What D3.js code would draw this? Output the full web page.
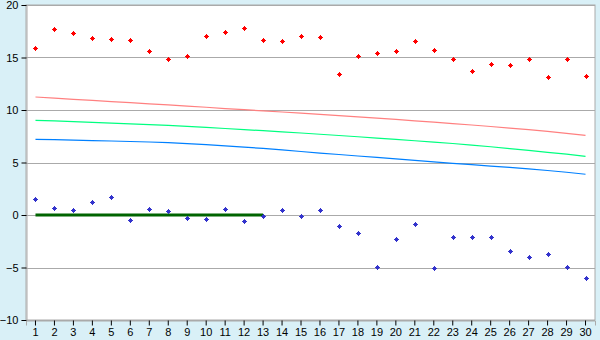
<!DOCTYPE html>
<html>
<head>
<meta charset="utf-8">
<script src="https://cdn.jsdelivr.net/npm/d3@7"></script>
<style>
	body { margin: 0; background: #d9f0f7; }
	svg { display: block; font-family: "DejaVu Sans", sans-serif; }
</style>
</head>
<body>
<svg id="chart"></svg>
<script>
const categories = d3.range(1, 31).map(String);

const redPoints = [15.88, 17.68, 17.30, 16.83, 16.73, 16.63, 15.59, 14.83, 15.11, 17.01,
	17.40, 17.78, 16.63, 16.54, 17.01, 16.92, 13.43, 15.11, 15.40, 15.59,
	16.54, 15.68, 14.83, 13.68, 14.35, 14.25, 14.83, 13.11, 14.83, 13.21];

const bluePoints = [1.49, 0.63, 0.44, 1.21, 1.68, -0.51, 0.54, 0.35, -0.32, -0.41,
	0.54, -0.60, -0.13, 0.44, -0.13, 0.44, -1.08, -1.75, -4.98, -2.32,
	-0.89, -5.08, -2.13, -2.13, -2.13, -3.46, -4.03, -3.75, -4.98, -6.03];

const pinkLine = [11.24, 11.13, 11.02, 10.91, 10.80, 10.70, 10.59, 10.48, 10.37, 10.26,
	10.14, 10.03, 9.92, 9.81, 9.70, 9.58, 9.46, 9.34, 9.22, 9.10,
	8.97, 8.84, 8.71, 8.57, 8.43, 8.28, 8.13, 7.96, 7.78, 7.59];

const greenLine = [9.02, 8.96, 8.89, 8.82, 8.75, 8.68, 8.61, 8.54, 8.44, 8.34,
	8.24, 8.13, 8.03, 7.92, 7.81, 7.69, 7.57, 7.45, 7.32, 7.20,
	7.07, 6.94, 6.81, 6.66, 6.50, 6.33, 6.15, 5.97, 5.79, 5.59];

const blueLine = [7.21, 7.17, 7.13, 7.09, 7.05, 7.00, 6.95, 6.89, 6.80, 6.70,
	6.59, 6.47, 6.34, 6.20, 6.05, 5.90, 5.76, 5.62, 5.48, 5.34,
	5.20, 5.06, 4.92, 4.79, 4.66, 4.53, 4.39, 4.24, 4.07, 3.88];

// flat baseline segment, categories 1..13 at zero
const baseLine = categories.slice(0, 13).map(() => 0);

const yTicks = [-10, -5, 0, 5, 10, 15, 20];

const width = 600,
		height = 340,
		margin = {top: 5, right: 5, bottom: 20, left: 26};

const svg = d3.select("#chart")
	.attr("width", width)
	.attr("height", height);

const x = d3.scaleBand()
	.domain(categories)
	.range([margin.left, width - margin.right]);

const y = d3.scaleLinear()
	.domain([-10, 20])
	.range([height - margin.bottom, margin.top]);

const cx = (i) => x(categories[i]) + x.bandwidth() / 2;

// Plot background
svg.append("rect")
	.attr("x", margin.left)
	.attr("y", margin.top)
	.attr("width", width - margin.left - margin.right)
	.attr("height", height - margin.top - margin.bottom)
	.attr("fill", "#fff")
	.attr("stroke", "#aaa");

// Grid
svg.append("g")
	.selectAll("line")
	.data(yTicks)
	.enter()
	.append("line")
		.attr("x1", margin.left)
		.attr("x2", width - margin.right)
		.attr("y1", (d) => Math.round(y(d)) + 0.5)
		.attr("y2", (d) => Math.round(y(d)) + 0.5)
		.attr("stroke", "#aaa");

// Axes
const yAxis = svg.append("g")
	.attr("transform", `translate(${margin.left + 0.5},0)`)
	.call(d3.axisLeft(y).tickValues(yTicks).tickSize(5).tickPadding(3));

const xAxis = svg.append("g")
	.attr("transform", `translate(0,${height - margin.bottom + 0.5})`)
	.call(d3.axisBottom(x).tickSize(5).tickPadding(3));

[yAxis, xAxis].forEach((a) => {
	a.select(".domain").attr("stroke", "#aaa");
	a.selectAll(".tick line").attr("stroke", "#000");
	a.selectAll("text").attr("fill", "#000").style("font-size", "11px");
});

// Lines
const line = d3.line()
	.x((d, i) => cx(i))
	.y((d) => y(d));

([[pinkLine, "#ff8080", 1.2], [greenLine, "#00ff80", 1.2], [blueLine, "#0080ff", 1.2], [baseLine, "#006400", 3]])
	.forEach(([data, color, w]) => {
		svg.append("path")
			.datum(data)
			.attr("d", line)
			.attr("fill", "none")
			.attr("stroke", color)
			.attr("stroke-width", w);
	});

// Markers: small plus with a 3x3 centre
const marker = "M-0.5,-2.5h1v1h1v1h1v1h-1v1h-1v1h-1v-1h-1v-1h-1v-1h1v-1h1z";

([[redPoints, "#ff0000"], [bluePoints, "#3333cc"]]).forEach(([data, color]) => {
	svg.append("g")
		.selectAll("path")
		.data(data)
		.enter()
		.append("path")
			.attr("d", marker)
			.attr("transform", (d, i) => `translate(${Math.round(cx(i)) + 0.5},${Math.round(y(d)) + 0.5})`)
			.attr("fill", color);
});
</script>
</body>
</html>
